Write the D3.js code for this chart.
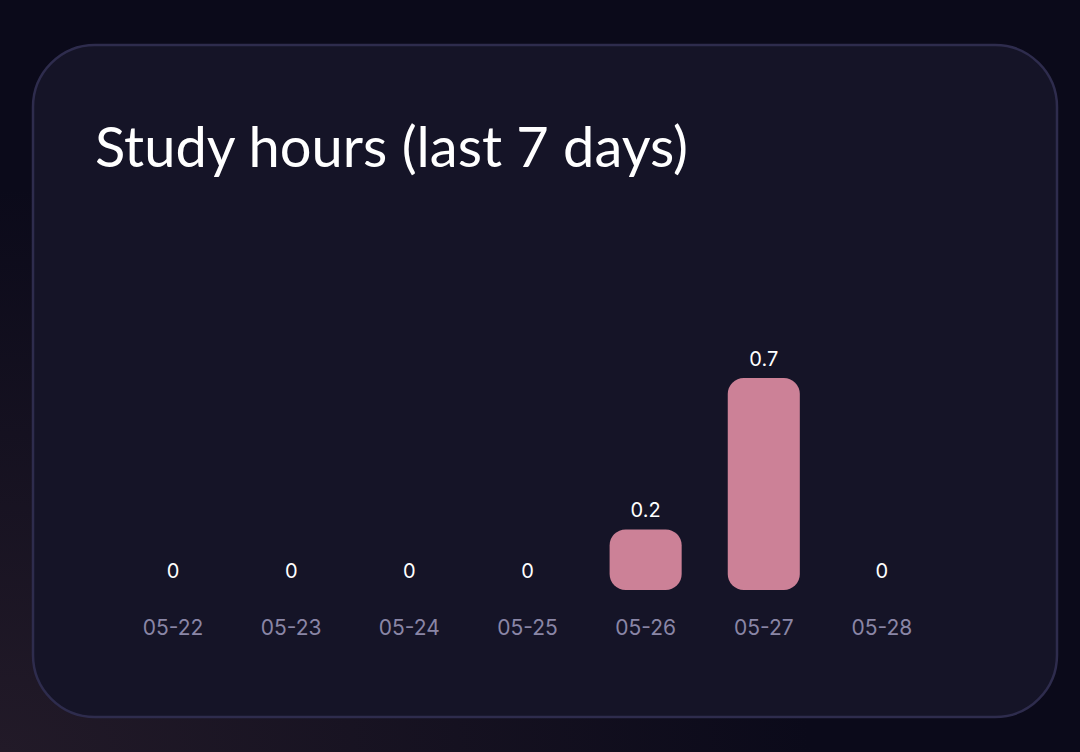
<!DOCTYPE html>
<html>
<head>
<meta charset="utf-8">
<script src="https://cdn.jsdelivr.net/npm/d3@7"></script>
<style>
  html, body { margin: 0; padding: 0; background: #0b0a1a; }
  svg { display: block; }
</style>
</head>
<body>
<svg id="chart" width="1080" height="752"></svg>
<script>
// data
const days = ["05-22", "05-23", "05-24", "05-25", "05-26", "05-27", "05-28"];
const hours = [0, 0, 0, 0, 0.2, 0.7, 0];

const width = 1080, height = 752;
const svg = d3.select("#chart");
const defs = svg.append("defs");

// page background, a faint purple glow at bottom left
const bg = defs.append("radialGradient")
    .attr("id", "bgGlow")
    .attr("cx", "0%").attr("cy", "100%").attr("r", "75%");
bg.append("stop").attr("offset", "0%").attr("stop-color", "#221a28");
bg.append("stop").attr("offset", "100%").attr("stop-color", "#0b0a1a");

svg.append("rect")
    .attr("width", width).attr("height", height)
    .attr("fill", "url(#bgGlow)");

// card
svg.append("rect")
    .attr("x", 33).attr("y", 45)
    .attr("width", 1024).attr("height", 672)
    .attr("rx", 62).attr("ry", 62)
    .attr("fill", "#151427")
    .attr("stroke", "#2e2c4d")
    .attr("stroke-width", 2.5);

svg.append("text")
    .attr("x", 95).attr("y", 167)
    .attr("fill", "#ffffff")
    .attr("font-family", "Lato, 'Open Sans', sans-serif")
    .attr("font-size", 56)
    .text("Study hours (last 7 days)");

// scales
const x = d3.scaleBand()
    .domain(days)
    .range([114, 941])
    .paddingInner(0.39)
    .paddingOuter(0.195);

const y = d3.scaleLinear()
    .domain([0, 0.7])
    .range([590, 378]);

const g = svg.append("g");

g.selectAll("rect.bar")
    .data(hours.map((v, i) => ({ day: days[i], v })).filter(d => d.v > 0))
    .enter()
    .append("rect")
    .attr("class", "bar")
    .attr("x", d => x(d.day))
    .attr("y", d => y(d.v))
    .attr("width", x.bandwidth())
    .attr("height", d => y(0) - y(d.v))
    .attr("rx", 16).attr("ry", 16)
    .attr("fill", "#cc8197");

// value labels
g.selectAll("text.val")
    .data(hours.map((v, i) => ({ day: days[i], v })))
    .enter()
    .append("text")
    .attr("class", "val")
    .attr("x", d => x(d.day) + x.bandwidth() / 2)
    .attr("y", d => y(d.v) - 12)
    .attr("text-anchor", "middle")
    .attr("fill", "#ffffff")
    .attr("font-family", "Inter, sans-serif")
    .attr("font-size", 20)
    .text(d => d.v);

// category axis, no line or ticks
const xAxis = g.append("g")
    .attr("transform", "translate(0,620)")
    .call(d3.axisBottom(x).tickSize(0).tickPadding(0));
xAxis.select(".domain").remove();
xAxis.selectAll("text")
    .attr("dy", "0.71em")
    .attr("fill", "#8a86a6")
    .attr("font-family", "Inter, sans-serif")
    .attr("font-size", 21);
</script>
</body>
</html>
